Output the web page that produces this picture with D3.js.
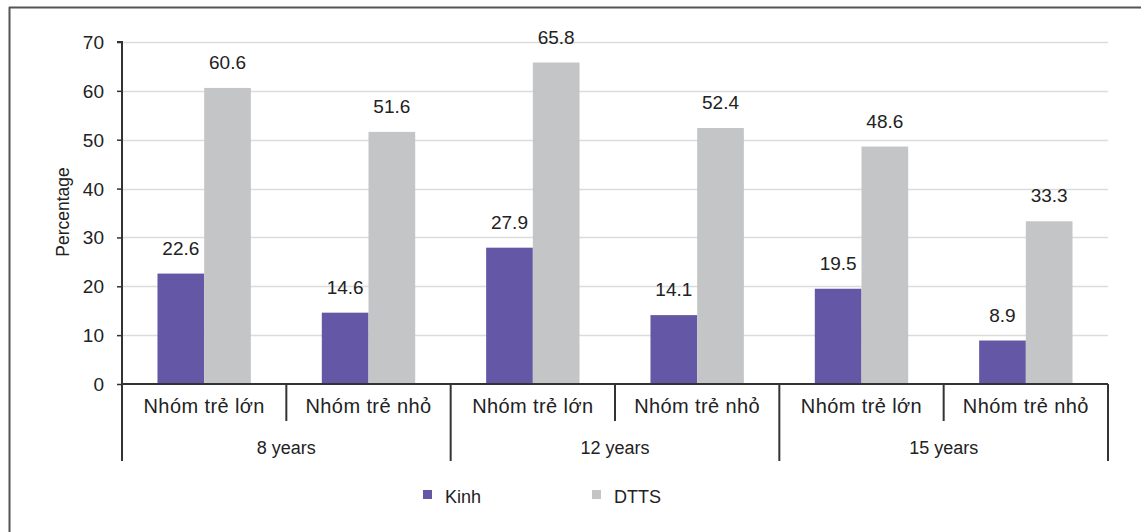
<!DOCTYPE html>
<html>
<head>
<meta charset="utf-8">
<script src="https://cdn.jsdelivr.net/npm/d3@7"></script>
<style>
  html, body { margin: 0; padding: 0; background: #fff; }
  svg { display: block; font-family: "Liberation Sans", Arial, sans-serif; }
</style>
</head>
<body>
<svg id="chart" width="1141" height="532"></svg>
<script>
// Age groups and the two cohorts inside each
const groups = ["8 years", "12 years", "15 years"];
const cohorts = ["Nhóm trẻ lớn", "Nhóm trẻ nhỏ"];
const seriesNames = ["Kinh", "DTTS"];
const kinh = [22.6, 14.6, 27.9, 14.1, 19.5, 8.9];
const dtts = [60.6, 51.6, 65.8, 52.4, 48.6, 33.3];
const yTicks = [0, 10, 20, 30, 40, 50, 60, 70];
const colors = ["#6357a6", "#c4c5c7"];

const svg = d3.select("#chart");
const plot = { left: 122, right: 1108, top: 42, bottom: 384 };

// Frame around the figure
svg.append("line").attr("x1", 9).attr("x2", 1141).attr("y1", 7.5).attr("y2", 7.5)
  .attr("stroke", "#555").attr("stroke-width", 2);
svg.append("line").attr("x1", 9.5).attr("x2", 9.5).attr("y1", 7).attr("y2", 532)
  .attr("stroke", "#555").attr("stroke-width", 2);

const cats = [];
groups.forEach(g => cohorts.forEach(c => cats.push(g + "|" + c)));

const x0 = d3.scaleBand().domain(cats).range([plot.left, plot.right]).paddingInner(0).paddingOuter(0);
const x1 = d3.scaleBand().domain(seriesNames).range([0, x0.bandwidth()]).paddingInner(0).paddingOuter(0.76);
const y = d3.scaleLinear().domain([0, 70]).range([plot.bottom, plot.top]);

// Gridlines
svg.append("g").selectAll("line").data(yTicks.filter(t => t > 0)).join("line")
  .attr("x1", plot.left).attr("x2", plot.right)
  .attr("y1", d => Math.round(y(d)) + 0.5).attr("y2", d => Math.round(y(d)) + 0.5)
  .attr("stroke", "#dcdcdc").attr("stroke-width", 1.5);

// Bars with value labels
const rows = cats.map((c, i) => ({ cat: c, vals: [kinh[i], dtts[i]] }));
const barG = svg.append("g");
rows.forEach(r => {
  r.vals.forEach((v, j) => {
    const bx = x0(r.cat) + x1(seriesNames[j]);
    barG.append("rect")
      .attr("x", bx).attr("width", x1.bandwidth())
      .attr("y", y(v)).attr("height", y(0) - y(v))
      .attr("fill", colors[j]);
    barG.append("text")
      .attr("x", bx + x1.bandwidth() / 2).attr("y", y(v) - 19)
      .attr("text-anchor", "middle").attr("font-size", 19).attr("fill", "#222")
      .text(v.toFixed(1));
  });
});

// Y axis
const yAxis = d3.axisLeft(y).tickValues(yTicks).tickSize(5).tickPadding(13).tickFormat(d3.format("d"));
const ya = svg.append("g").attr("transform", `translate(${plot.left},0)`).call(yAxis);
ya.select(".domain").attr("stroke", "#333").attr("stroke-width", 2).attr("d", `M-5,${plot.top}H0V${plot.bottom}`);
ya.selectAll(".tick line").attr("stroke", "#333").attr("stroke-width", 1.5);
ya.selectAll(".tick text").attr("font-size", 19).attr("fill", "#222").attr("dy", "0.34em")
  .style("font-family", "Liberation Sans, Arial, sans-serif");

// X axis baseline
svg.append("line").attr("x1", plot.left).attr("x2", plot.right)
  .attr("y1", plot.bottom).attr("y2", plot.bottom)
  .attr("stroke", "#333").attr("stroke-width", 2);

// Category separators: short between cohorts, long between age groups
const bounds = d3.range(cats.length + 1).map(i => plot.left + i * x0.step());
bounds.forEach((bx, i) => {
  const long = i % 2 === 0;
  svg.append("line")
    .attr("x1", bx).attr("x2", bx)
    .attr("y1", plot.bottom).attr("y2", long ? 461 : 421)
    .attr("stroke", "#333").attr("stroke-width", 2);
});

// Cohort labels
svg.append("g").selectAll("text").data(cats).join("text")
  .attr("x", d => x0(d) + x0.bandwidth() / 2).attr("y", 413)
  .attr("text-anchor", "middle").attr("font-size", 20).attr("letter-spacing", 0.4).attr("fill", "#222")
  .text(d => d.split("|")[1]);

// Age group labels
svg.append("g").selectAll("text").data(groups).join("text")
  .attr("x", (d, i) => plot.left + (i * 2 + 1) * x0.step())
  .attr("y", 454)
  .attr("text-anchor", "middle").attr("font-size", 18).attr("fill", "#222")
  .text(d => d);

// Y axis title
svg.append("text")
  .attr("transform", `translate(69,212) rotate(-90)`)
  .attr("text-anchor", "middle").attr("font-size", 17.5).attr("fill", "#222")
  .text("Percentage");

// Legend
const legendX = [423, 592];
seriesNames.forEach((s, i) => {
  svg.append("rect").attr("x", legendX[i]).attr("y", 490).attr("width", 9).attr("height", 9)
    .attr("fill", colors[i]);
  svg.append("text").attr("x", legendX[i] + 22).attr("y", 503)
    .attr("font-size", 18).attr("fill", "#222").text(s);
});
</script>
</body>
</html>
